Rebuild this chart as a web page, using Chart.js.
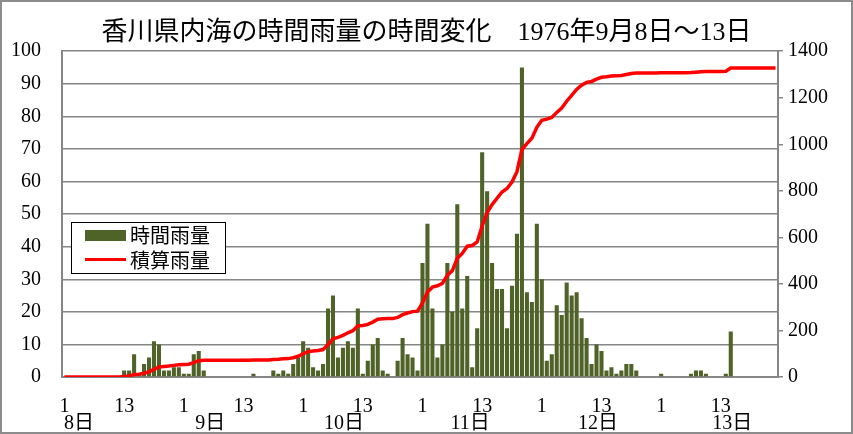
<!DOCTYPE html>
<html lang="ja">
  <head>
    <meta charset="UTF-8" />
    <title>香川県内海の時間雨量</title>
    <script src="https://cdn.jsdelivr.net/npm/chart.js"></script>
    <style>
      body {
        margin: 0;
        background: #fff;
      }
      /* outer frame round the whole chart */
      .frame {
        position: absolute;
        left: 0;
        top: 0;
        width: 853px;
        height: 434px;
        box-sizing: border-box;
        border: 2px solid #8c8c8c;
      }
      .legend {
        position: absolute;
        left: 71px;
        top: 222px;
        width: 155px;
        height: 52px;
        box-sizing: border-box;
        border: 1px solid #000;
        background: #fff;
        font-family: "Noto Sans CJK JP", sans-serif;
        font-size: 20px;
        color: #000;
      }
      .legend .swatch {
        position: absolute;
        left: 13px;
        width: 41px;
      }
      .legend .txt {
        position: absolute;
        left: 58px;
        line-height: 22px;
      }
    </style>
  </head>
  <body>
    <div class="frame">
      <canvas id="rainChart" width="849" height="430"></canvas>
    </div>
    <div class="legend">
      <div class="swatch" style="top: 7px; height: 11px; background: #4f6228"></div>
      <span class="txt" style="top: 1px">時間雨量</span>
      <div class="swatch" style="top: 35px; height: 3px; background: #ff0000"></div>
      <span class="txt" style="top: 26px">積算雨量</span>
    </div>

    <script>
      const days = ["8日", "9日", "10日", "11日", "12日", "13日"];
      const hoursOfDay = [
        1, 2, 3, 4, 5, 6, 7, 8, 9, 10, 11, 12,
        13, 14, 15, 16, 17, 18, 19, 20, 21, 22, 23, 24,
      ];
      const shownHours = [1, 13];

      // hourly rainfall (mm), 8日 1時 .. 13日 24時
      const hourlyRain = [
        0, 0, 0, 0, 0, 0, 0, 0, 0, 0, 0, 0,
        2, 2, 7, 1, 4, 6, 11, 10, 2, 2, 3, 3,
        1, 1, 7, 8, 2, 0, 0, 0, 0, 0, 0, 0,
        0, 0, 1, 0, 0, 0, 2, 1, 2, 1, 4, 6,
        11, 9, 3, 2, 4, 21, 25, 6, 9, 11, 9, 21,
        1, 5, 10, 12, 2, 1, 0, 5, 12, 7, 6, 2,
        35, 47, 21, 6, 10, 35, 20, 53, 21, 31, 3, 15,
        69, 57, 35, 27, 27, 15, 28, 44, 95, 26, 23, 47,
        30, 5, 7, 22, 19, 29, 25, 26, 18, 12, 4, 10,
        8, 2, 3, 1, 2, 4, 4, 2, 0, 0, 0, 0,
        1, 0, 0, 0, 0, 0, 1, 2, 2, 1, 0, 0,
        0, 1, 14, 0, 0, 0, 0, 0, 0, 0, 0, 0,
      ];

      // accumulated rainfall (mm)
      const totalRain = [
        0, 0, 0, 0, 0, 0, 0, 0, 0, 0, 0, 0,
        2, 4, 11, 12, 16, 22, 33, 43, 45, 47, 50, 53,
        54, 55, 62, 70, 72, 72, 72, 72, 72, 72, 72, 72,
        72, 72, 73, 73, 73, 73, 75, 76, 78, 79, 83, 89,
        100, 109, 112, 114, 118, 139, 164, 170, 179, 190, 199, 220,
        221, 226, 236, 248, 250, 251, 251, 256, 268, 275, 281, 283,
        318, 365, 386, 392, 402, 437, 457, 510, 531, 562, 565, 580,
        649, 706, 741, 768, 795, 810, 838, 882, 977, 1003, 1026, 1073,
        1103, 1108, 1115, 1137, 1156, 1185, 1210, 1236, 1254, 1266, 1270, 1280,
        1288, 1290, 1293, 1294, 1296, 1300, 1304, 1306, 1306, 1306, 1306, 1306,
        1307, 1307, 1307, 1307, 1307, 1307, 1308, 1310, 1312, 1313, 1313, 1313,
        1313, 1314, 1328, 1328, 1328, 1328, 1328, 1328, 1328, 1328, 1328, 1328,
      ];

      // where the day names sit along the hour axis
      const dayLabelAt = [3.4, 29.8, 56.7, 82.1, 107.8, 134.8];

      const labels = days.flatMap(() => hoursOfDay.map((h) => String(h)));

      const gridGray = "#868686";
      const serifFamily = "'Liberation Serif', 'Noto Sans CJK JP', serif";
      const numFont = { family: serifFamily, size: 20 };

      new Chart(document.getElementById("rainChart"), {
        data: {
          labels: labels,
          datasets: [
            {
              type: "line",
              label: "積算雨量",
              data: totalRain,
              yAxisID: "y2",
              borderColor: "#ff0000",
              borderWidth: 3.5,
              pointRadius: 0,
              tension: 0,
              order: 0,
            },
            {
              type: "bar",
              label: "時間雨量",
              data: hourlyRain,
              yAxisID: "y",
              backgroundColor: "#4f6228",
              categoryPercentage: 1,
              barPercentage: 0.82,
              order: 1,
            },
          ],
        },
        options: {
          responsive: false,
          animation: false,
          layout: { padding: 0 },
          plugins: {
            legend: { display: false },
            tooltip: { enabled: false },
            title: {
              display: true,
              text: "香川県内海の時間雨量の時間変化　1976年9月8日～13日",
              color: "#000",
              font: { family: serifFamily, size: 26, weight: "normal" },
              padding: { top: 16, bottom: 2 },
            },
          },
          scales: {
            x: {
              type: "category",
              offset: true,
              grid: { display: false },
              border: { color: gridGray, width: 2 },
              ticks: {
                autoSkip: false,
                maxRotation: 0,
                padding: 10,
                color: "#000",
                font: numFont,
                callback: function (val, idx) {
                  const h = hoursOfDay[idx % 24];
                  return shownHours.includes(h) ? String(h) : "";
                },
              },
              afterFit: (s) => {
                s.height = 40;
              },
            },
            x2: {
              type: "linear",
              position: "bottom",
              min: 0,
              max: 144,
              grid: { display: false, drawTicks: false },
              border: { display: false },
              afterBuildTicks: (s) => {
                s.ticks = dayLabelAt.map((v) => ({ value: v }));
              },
              ticks: {
                autoSkip: false,
                maxRotation: 0,
                mirror: true,
                padding: -19,
                color: "#000",
                font: { family: serifFamily, size: 20 },
                callback: function (val, idx) {
                  return days[idx];
                },
              },
              afterFit: (s) => {
                s.height = 15;
              },
            },
            y: {
              position: "left",
              min: 0,
              max: 100,
              ticks: {
                stepSize: 10,
                padding: 21,
                color: "#000",
                font: numFont,
              },
              grid: { color: gridGray, lineWidth: 1.5, drawTicks: false },
              border: { color: gridGray, width: 2 },
              afterFit: (s) => {
                s.width = 60;
              },
            },
            y2: {
              position: "right",
              min: 0,
              max: 1400,
              ticks: {
                stepSize: 200,
                padding: 5,
                color: "#000",
                font: numFont,
                callback: (v) => String(v),
              },
              grid: {
                drawOnChartArea: false,
                color: gridGray,
                tickLength: 5,
                lineWidth: 1.5,
              },
              border: { color: gridGray, width: 2 },
              afterFit: (s) => {
                s.width = 73;
              },
            },
          },
        },
      });
    </script>
  </body>
</html>
